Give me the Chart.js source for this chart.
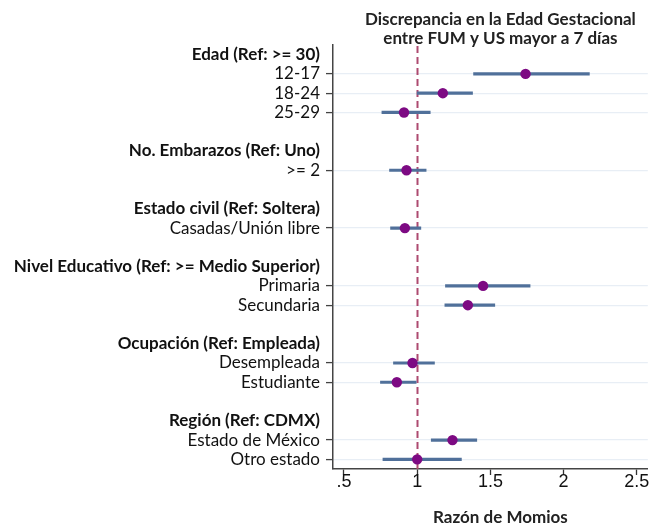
<!DOCTYPE html>
<html>
<head>
<meta charset="utf-8">
<script src="https://cdn.jsdelivr.net/npm/chart.js@4.4.1/dist/chart.umd.min.js"></script>
<style>
  html, body { margin: 0; padding: 0; background: #fff; }
  #wrap { width: 653px; height: 526px; }
</style>
</head>
<body>
<div id="wrap"><canvas id="c" width="653" height="526"></canvas></div>
<script>
// Rows of the forest plot, top to bottom ('' = spacer row)
const rowLabels = [
  'Edad (Ref: >= 30)', '12-17', '18-24', '25-29', '',
  'No. Embarazos (Ref: Uno)', '>= 2', '',
  'Estado civil (Ref: Soltera)', 'Casadas/Unión libre', '',
  'Nivel Educativo (Ref: >= Medio Superior)', 'Primaria', 'Secundaria', '',
  'Ocupación (Ref: Empleada)', 'Desempleada', 'Estudiante', '',
  'Región (Ref: CDMX)', 'Estado de México', 'Otro estado'
];
const headerRows = [0, 5, 8, 11, 15, 19];

// Odds ratios and 95% confidence limits (null on header / spacer rows)
const oddsRatio = [null, 1.74, 1.175, 0.91, null, null, 0.927, null, null, 0.916, null,
                   null, 1.45, 1.346, null, null, 0.968, 0.861, null, null, 1.241, 1.0];
const ciLower   = [null, 1.385, 1.0, 0.759, null, null, 0.811, null, null, 0.818, null,
                   null, 1.193, 1.189, null, null, 0.838, 0.749, null, null, 1.096, 0.766];
const ciUpper   = [null, 2.176, 1.378, 1.089, null, null, 1.061, null, null, 1.025, null,
                   null, 1.771, 1.530, null, null, 1.118, 0.993, null, null, 1.407, 1.302];

const xTickValues = [0.5, 1, 1.5, 2, 2.5];
const xTickLabels = ['.5', '1', '1.5', '2', '2.5'];
const referenceValue = 1;

const titleLines = ['Discrepancia en la Edad Gestacional', 'entre FUM y US mayor a 7 días'];
const xAxisTitle = 'Razón de Momios';

const isItem = i => oddsRatio[i] !== null;
const TEXT_FONT = 'Lato, "Open Sans", sans-serif';

// Dashed null-effect line and the text titles, positioned from the scales
const decorations = {
  id: 'decorations',
  beforeDatasetsDraw(chart) {
    const { ctx, chartArea, scales } = chart;
    const x = Math.round(scales.x.getPixelForValue(referenceValue)) + 0.5;
    ctx.save();
    ctx.strokeStyle = '#ad4a70';
    ctx.lineWidth = 2;
    ctx.setLineDash([7, 4]);
    ctx.beginPath();
    ctx.moveTo(x, chartArea.top + 1);
    ctx.lineTo(x, chartArea.bottom);
    ctx.stroke();
    ctx.restore();
  },
  afterDraw(chart) {
    const { ctx, chartArea } = chart;
    const cx = (chartArea.left + chartArea.right) / 2 + 10;
    ctx.save();
    ctx.fillStyle = '#222';
    ctx.textAlign = 'center';
    ctx.textBaseline = 'middle';
    ctx.font = 'bold 17px ' + TEXT_FONT;
    titleLines.forEach((t, i) => ctx.fillText(t, cx, 20 + i * 19));
    ctx.fillText(xAxisTitle, cx, 518);
    ctx.restore();
  }
};

new Chart(document.getElementById('c'), {
  type: 'bar',
  data: {
    labels: rowLabels,
    datasets: [
      {
        type: 'line',
        label: 'OR',
        data: oddsRatio,
        showLine: false,
        pointRadius: 5.2,
        pointHoverRadius: 5.2,
        pointBackgroundColor: '#7d0a83',
        pointBorderColor: '#7d0a83',
        pointBorderWidth: 0,
        order: 0
      },
      {
        label: 'IC 95%',
        data: ciLower.map((lo, i) => lo === null ? null : [lo, ciUpper[i]]),
        backgroundColor: '#50709a',
        borderWidth: 0,
        barThickness: 2.5,
        order: 1
      }
    ]
  },
  options: {
    indexAxis: 'y',
    responsive: false,
    animation: false,
    devicePixelRatio: 1,
    layout: { padding: { top: 45, right: 5, left: 0, bottom: 0 } },
    plugins: {
      legend: { display: false },
      tooltip: { enabled: false },
      title: { display: false }
    },
    scales: {
      x: {
        type: 'linear',
        min: 0.425,
        max: 2.575,
        afterBuildTicks: s => { s.ticks = xTickValues.map(v => ({ value: v })); },
        afterFit: s => { s.height = 57; },
        ticks: {
          callback: v => xTickLabels[xTickValues.indexOf(v)] ?? '',
          color: '#111',
          padding: -4,
          font: { family: '"Liberation Sans", Arial, sans-serif', size: 18 }
        },
        grid: {
          drawOnChartArea: false,
          drawTicks: true,
          tickLength: 6,
          tickColor: '#333',
          tickWidth: 1.3
        },
        border: { color: '#444', width: 1.5 }
      },
      y: {
        type: 'category',
        offset: true,
        afterFit: s => { s.width = 333; },
        ticks: {
          autoSkip: false,
          color: '#111',
          padding: 6,
          font: ctx => ({
            family: TEXT_FONT,
            size: 17,
            weight: headerRows.includes(ctx.index) ? 'bold' : 'normal'
          })
        },
        grid: {
          offset: false,
          color: ctx => isItem(ctx.index) ? '#e8eef5' : 'rgba(0,0,0,0)',
          lineWidth: 1.2,
          tickLength: 7,
          tickColor: ctx => isItem(ctx.index) ? '#444' : 'rgba(0,0,0,0)',
          tickWidth: 1.3
        },
        border: { color: '#444', width: 1.5 }
      }
    }
  },
  plugins: [decorations]
});
</script>
</body>
</html>
